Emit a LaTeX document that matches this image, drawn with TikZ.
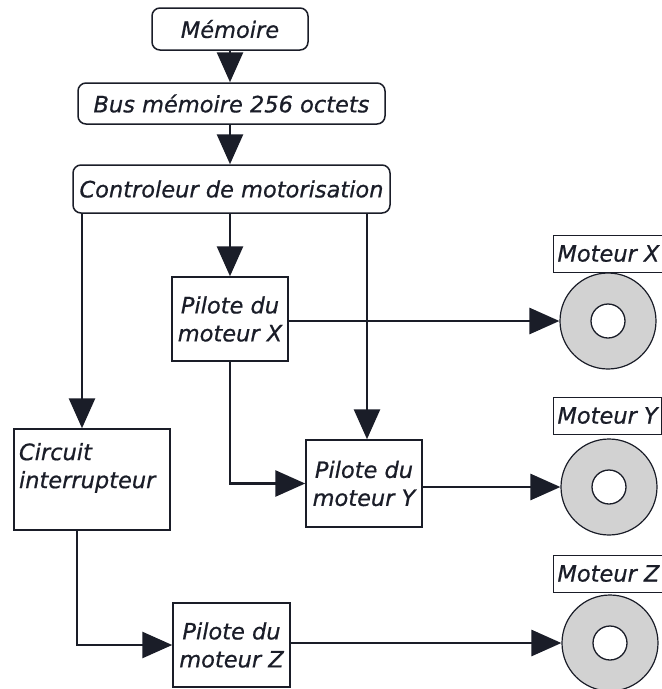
\documentclass[tikz,border=0pt]{standalone}
\usepackage{fontspec}
\setmainfont{DejaVu Sans}
\newfontfamily\labelfont[FakeBold=0.7]{DejaVu Sans Oblique}
\usetikzlibrary{arrows.meta}
\definecolor{ink}{HTML}{1A1D28}
\definecolor{disc}{HTML}{D2D2D2}
\begin{document}
\begin{tikzpicture}[x=1pt,y=-1pt,
  lbl/.style={font=\labelfont\fontsize{22.5}{28}\selectfont, text=ink},
  rbox/.style={lbl, draw=ink, line width=1.5pt, rounded corners=8pt, fill=white, inner sep=0pt},
  sbox/.style={lbl, draw=ink, line width=1.5pt, fill=white, inner sep=0pt, align=center},
  tag/.style={lbl, draw=ink, line width=1pt, fill=white, inner xsep=4pt, inner ysep=0pt,
              minimum height=37pt, anchor=west},
  rotor/.style={circle, draw=ink, line width=1.2pt, fill=disc, minimum size=96pt, inner sep=0pt},
  hub/.style={circle, draw=ink, line width=1.3pt, fill=white, minimum size=34pt, inner sep=0pt},
  link/.style={draw=ink, line width=2.8pt, -{Triangle[length=30pt,width=26pt]}}]

% page frame
\clip (0,0) rectangle (662,689);
\fill[white] (0,0) rectangle (662,689);

% memory chain
\node[rbox, minimum width=156pt, minimum height=42pt] (mem)  at (230,29)    {Mémoire};
\node[rbox, minimum width=307pt, minimum height=41pt] (bus)  at (231.5,103.5) {Bus mémoire 256 octets};
\node[rbox, minimum width=317pt, minimum height=48pt] (ctrl) at (231.5,189) {Controleur de motorisation};

% driver blocks
\node[sbox, minimum width=116pt, minimum height=84pt] (pilX) at (230,319)   {Pilote du\\moteur X};
\node[sbox, minimum width=116pt, minimum height=87pt] (pilY) at (364,483.5) {Pilote du\\moteur Y};
\node[sbox, minimum width=117pt, minimum height=84pt] (pilZ) at (231.5,645) {Pilote du\\moteur Z};
\node[sbox, inner xsep=5pt, inner ysep=14pt] (circ) at (92,479.5)
  {\parbox[c][73pt][t]{146pt}{\raggedright Circuit\\interrupteur}};

% motors
\node[rotor] (motX) at (608,321) {};
\node[hub]   (hubX) at (motX) {};
\node[rotor] (motY) at (609,487) {};
\node[hub]   (hubY) at (motY) {};
\node[rotor] (motZ) at (610,643) {};
\node[hub]   (hubZ) at (motZ) {};

\node[tag] (tagX) at (553,253.5) {Moteur X};
\node[tag] (tagY) at (553,415.5) {Moteur Y};
\node[tag] (tagZ) at (553,573.5) {Moteur Z};

% drop points below the controller
\coordinate (dropC) at (82,0);
\coordinate (dropY) at (367,0);
\coordinate (dropZ) at (77,0);

% connectors
\draw[link] (mem.south) -- (mem.south |- bus.north);
\draw[link] (bus.south -| mem.south) -- (ctrl.north -| mem.south);
\draw[link] (ctrl.south -| pilX.north) -- (pilX.north);
\draw[link] (ctrl.south -| dropC) -- (circ.north -| dropC);
\draw[link] (ctrl.south -| dropY) -- (pilY.north -| dropY);
\draw[link] (pilX.south) |- (pilY.west);
\draw[link] (pilX.east |- motX) -- (motX.west);
\draw[link] (pilY.east |- motY) -- (motY.west);
\draw[link] (circ.south -| dropZ) |- (pilZ.west);
\draw[link] (pilZ.east |- motZ) -- (motZ.west);
\end{tikzpicture}
\end{document}
